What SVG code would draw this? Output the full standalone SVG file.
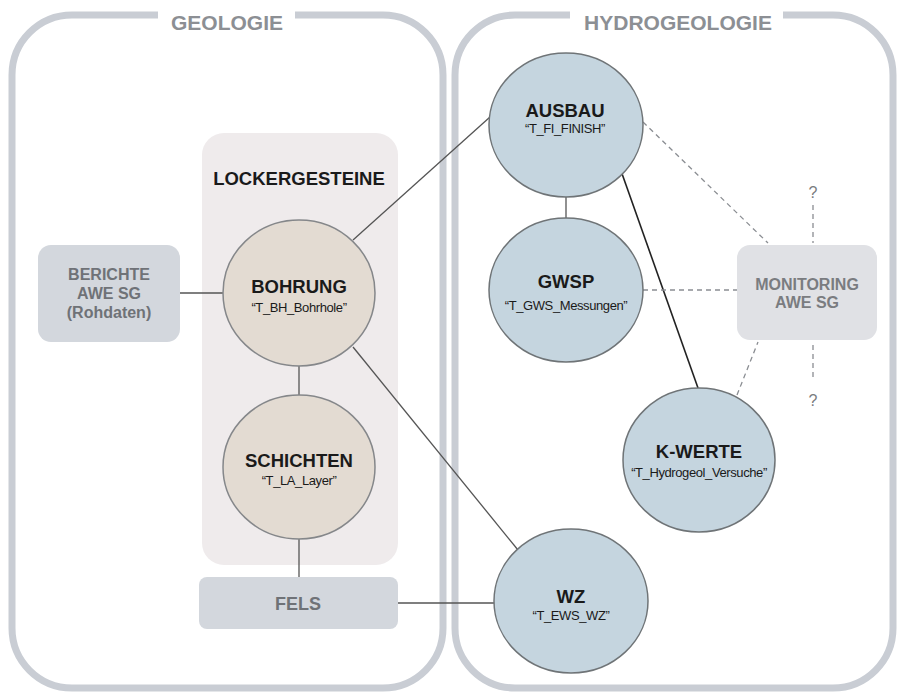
<svg xmlns="http://www.w3.org/2000/svg" width="898" height="693" viewBox="0 0 898 693">
<style>
.panel{fill:#ffffff;stroke:#c9cdd4;stroke-width:7}
.hdr{font-family:"Liberation Sans",Arial,sans-serif;font-weight:bold;font-size:21px;fill:#8c8f94;text-anchor:middle}
.title{font-family:"Liberation Sans",Arial,sans-serif;font-weight:bold;font-size:18.5px;fill:#1a1a1a;text-anchor:middle}
.sub{font-family:"Liberation Sans",Arial,sans-serif;font-size:13px;letter-spacing:-0.4px;fill:#1a1a1a;text-anchor:middle}
.boxt{font-family:"Liberation Sans",Arial,sans-serif;font-weight:bold;font-size:16px;fill:#6f7277;text-anchor:middle}
.q{font-family:"Liberation Sans",Arial,sans-serif;font-size:16px;fill:#7a7c80;text-anchor:middle}
.geo{fill:#e3dbd2;stroke:#85878a;stroke-width:1.5}
.hyd{fill:#c5d5df;stroke:#6f7477;stroke-width:1.5}
.box{fill:#d3d7dd}
.solid{stroke:#555;stroke-width:1.3;fill:none}
.dark{stroke:#222;stroke-width:1.6;fill:none}
.dash{stroke:#8a8d92;stroke-width:1.3;stroke-dasharray:5 4;fill:none}
</style>
<rect width="898" height="693" fill="#ffffff"/>
<g id="panel-geologie">
<path class="panel" d="M158 15 H72 A60 60 0 0 0 12 75 V628 A60 60 0 0 0 72 688 H383 A60 60 0 0 0 443 628 V75 A60 60 0 0 0 383 15 H295"/>
<text class="hdr" x="227" y="30">GEOLOGIE</text>
</g>
<g id="panel-hydrogeologie">
<path class="panel" d="M570 15 H515 A60 60 0 0 0 455 75 V628 A60 60 0 0 0 515 688 H833 A60 60 0 0 0 893 628 V75 A60 60 0 0 0 833 15 H783"/>
<text class="hdr" x="678" y="30">HYDROGEOLOGIE</text>
</g>
<g id="lockergesteine">
<rect x="202" y="133" width="196" height="432" rx="22" fill="#efebec"/>
<text class="title" x="299" y="185">LOCKERGESTEINE</text>
</g>
<g id="connectors">
<line class="solid" x1="180" y1="293" x2="223" y2="293"/>
<line class="solid" x1="299" y1="365" x2="299" y2="395"/>
<line class="solid" x1="299" y1="539" x2="299" y2="577"/>
<line class="solid" x1="398" y1="603" x2="494" y2="603"/>
<line class="solid" x1="353" y1="240" x2="490" y2="117"/>
<line class="solid" x1="353" y1="347" x2="518" y2="550"/>
<line class="solid" x1="566" y1="196" x2="566" y2="218"/>
<line class="dark" x1="620" y1="168" x2="698" y2="388"/>
<line class="dash" x1="643" y1="122" x2="768" y2="243"/>
<line class="dash" x1="643" y1="290" x2="737" y2="290"/>
<line class="dash" x1="737" y1="395" x2="758" y2="342"/>
<line class="dash" x1="813" y1="205" x2="813" y2="243"/>
<line class="dash" x1="813" y1="345" x2="813" y2="377"/>
</g>
<g id="berichte">
<rect class="box" x="38" y="245" width="142" height="97" rx="13"/>
<text class="boxt" x="109" y="280">BERICHTE</text>
<text class="boxt" x="109" y="299">AWE SG</text>
<text class="boxt" x="109" y="318">(Rohdaten)</text>
</g>
<g id="bohrung">
<ellipse class="geo" cx="299" cy="293" rx="76" ry="73"/>
<text class="title" x="299" y="293">BOHRUNG</text>
<text class="sub" x="299" y="312">“T_BH_Bohrhole”</text>
</g>
<g id="schichten">
<ellipse class="geo" cx="299" cy="467" rx="76" ry="72"/>
<text class="title" x="299" y="467">SCHICHTEN</text>
<text class="sub" x="299" y="485">“T_LA_Layer”</text>
</g>
<g id="fels">
<rect class="box" x="199" y="577" width="199" height="52" rx="8"/>
<text class="boxt" x="298" y="610" style="font-size:18px">FELS</text>
</g>
<g id="ausbau">
<ellipse class="hyd" cx="566" cy="125" rx="77" ry="72"/>
<text class="title" x="565" y="117">AUSBAU</text>
<text class="sub" x="565" y="133">“T_FI_FINISH”</text>
</g>
<g id="gwsp">
<ellipse class="hyd" cx="566" cy="290" rx="77" ry="72"/>
<text class="title" x="566" y="288">GWSP</text>
<text class="sub" x="566" y="310">“T_GWS_Messungen”</text>
</g>
<g id="kwerte">
<ellipse class="hyd" cx="699" cy="460" rx="76" ry="72"/>
<text class="title" x="699" y="458">K-WERTE</text>
<text class="sub" x="699" y="477">“T_Hydrogeol_Versuche”</text>
</g>
<g id="wz">
<ellipse class="hyd" cx="571" cy="601" rx="77" ry="72"/>
<text class="title" x="571" y="603">WZ</text>
<text class="sub" x="571" y="620">“T_EWS_WZ”</text>
</g>
<g id="monitoring">
<rect x="737" y="245" width="140" height="95" rx="13" fill="#e0e1e5"/>
<text class="boxt" x="807" y="290" style="fill:#7a7c80">MONITORING</text>
<text class="boxt" x="807" y="308" style="fill:#7a7c80">AWE SG</text>
<text class="q" x="813" y="198">?</text>
<text class="q" x="813" y="406">?</text>
</g>
</svg>
